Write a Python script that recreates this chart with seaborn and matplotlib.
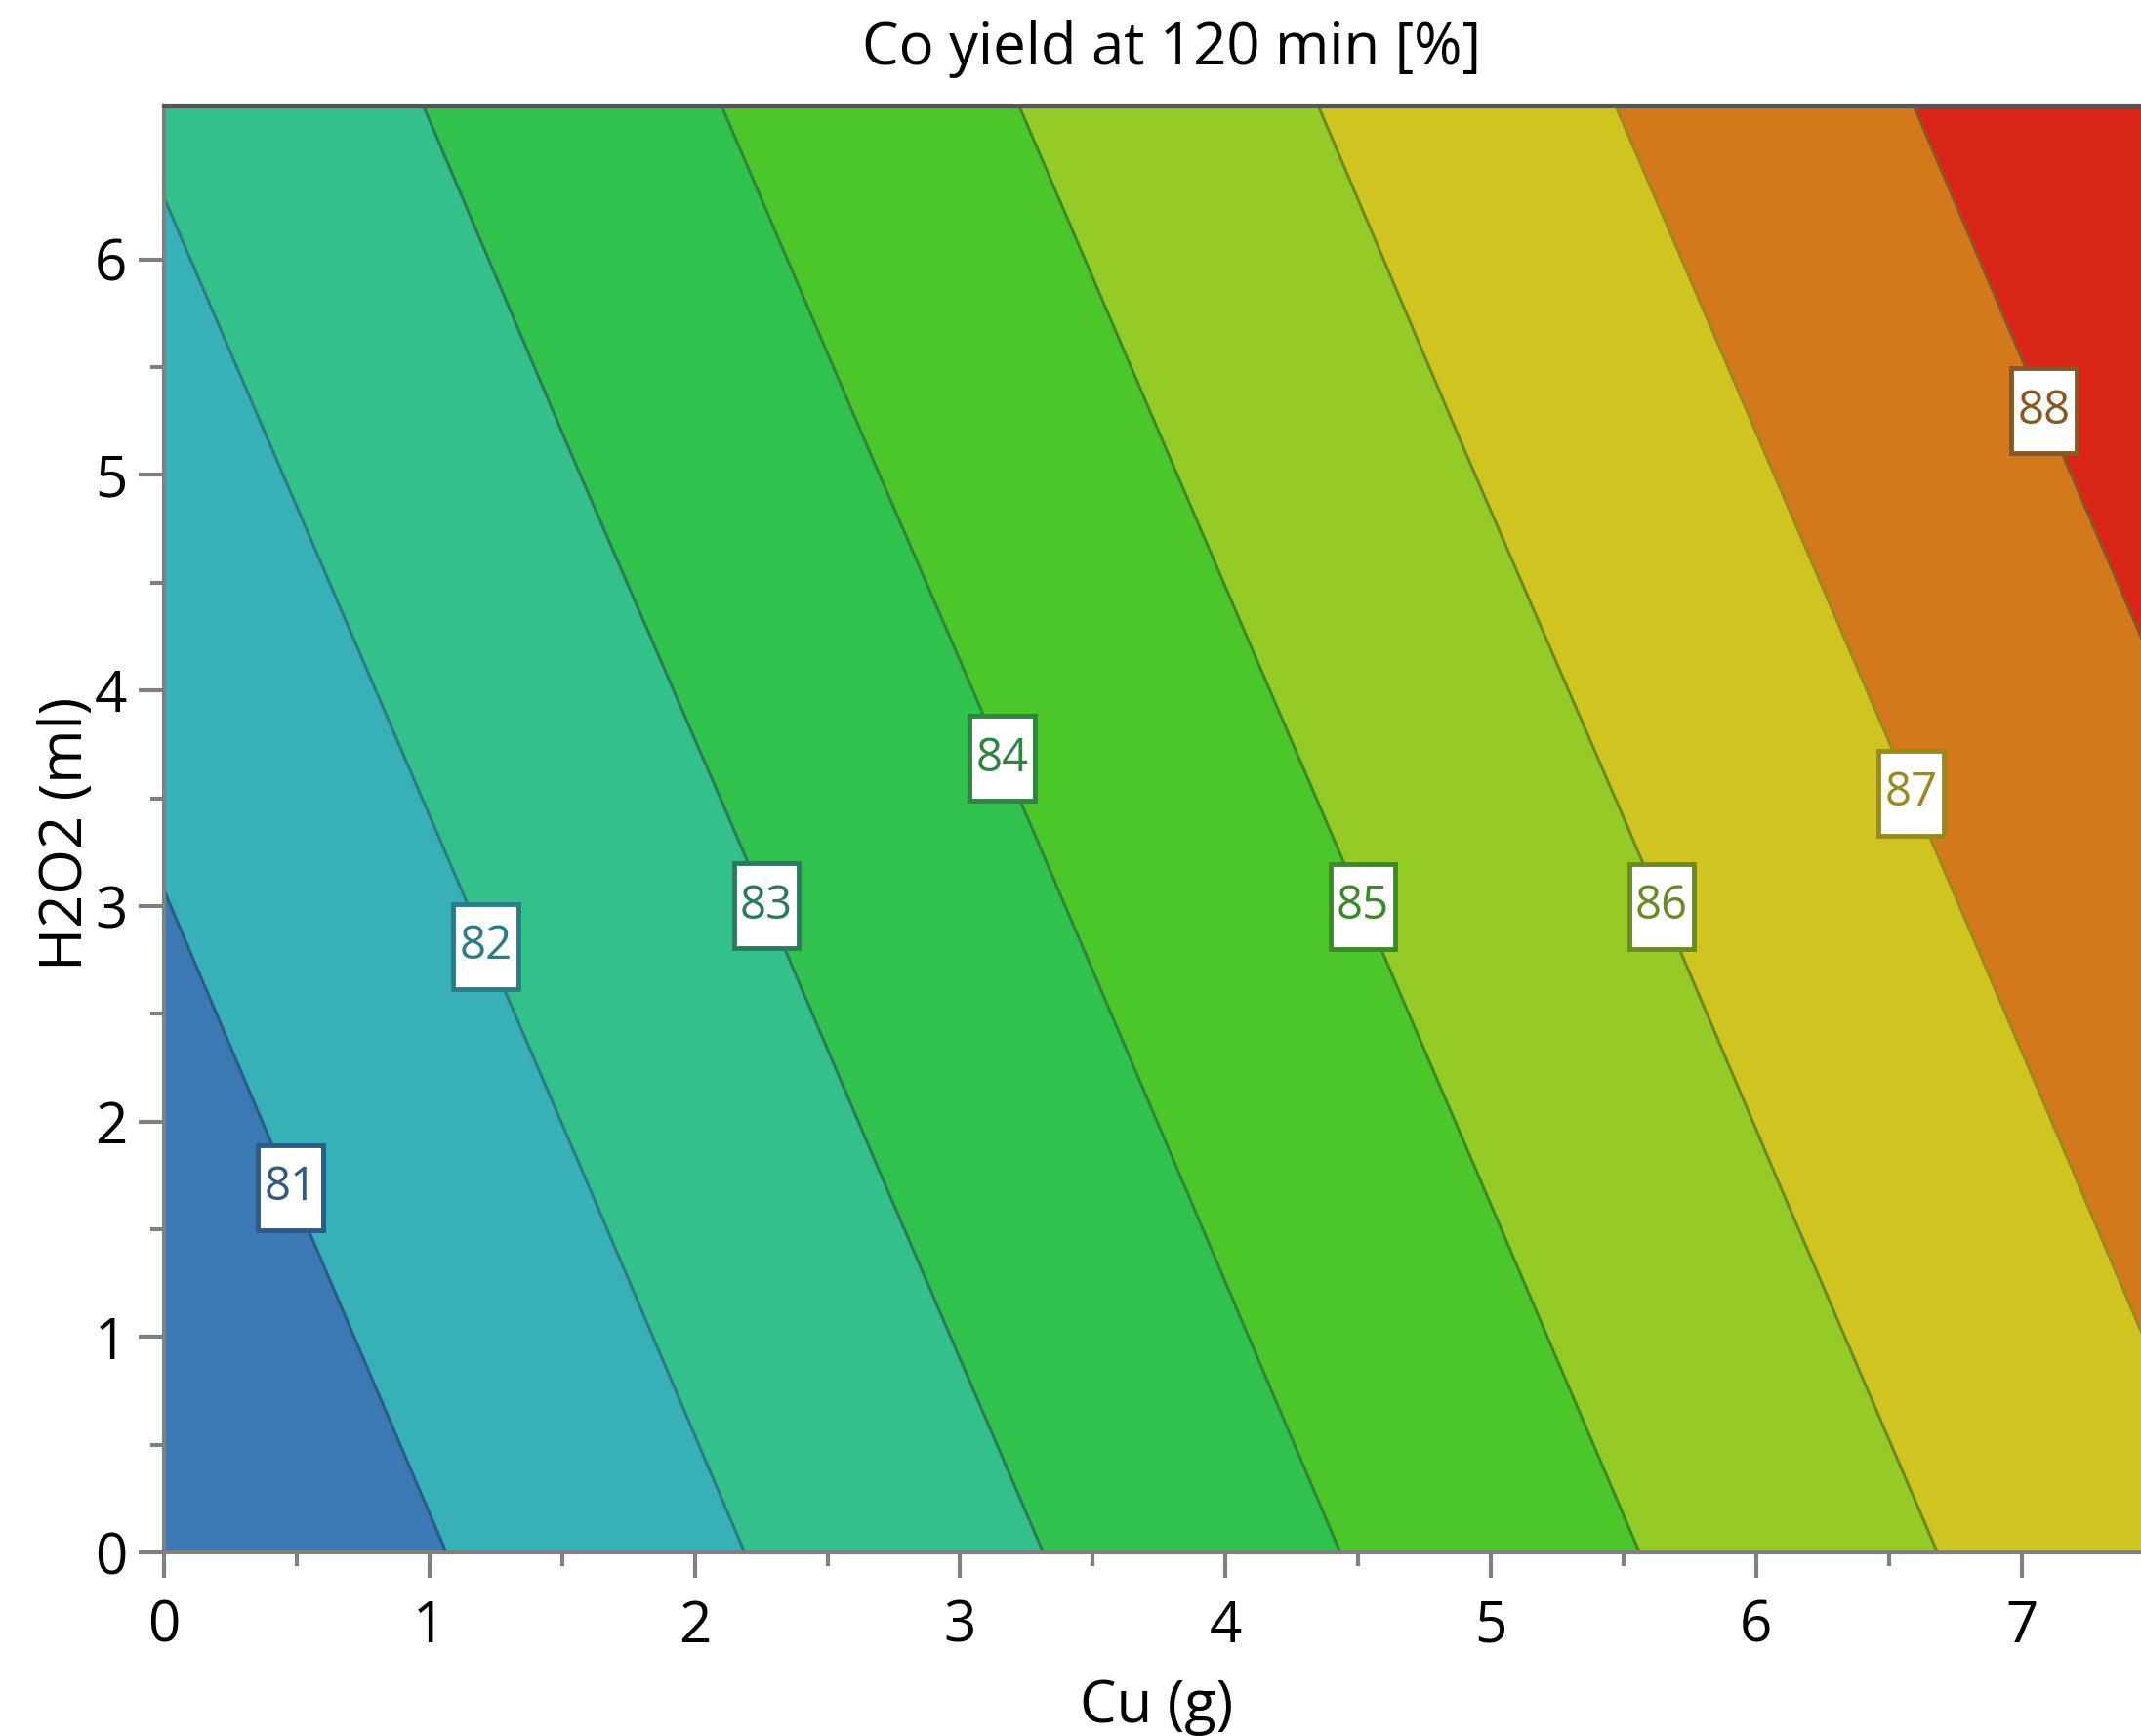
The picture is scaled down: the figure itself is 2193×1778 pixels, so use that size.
import numpy as np
import matplotlib
matplotlib.use("Agg")
import matplotlib.pyplot as plt
from matplotlib.path import Path
import seaborn as sns

# values (plane of Co yield over Cu / H2O2)
cu_g = [0.0, 1.5, 3.0, 4.5, 6.0, 7.5]
h2o2_ml = [0.0, 1.7, 3.4, 5.1, 6.8]
co_yield = [
    [80.05, 81.39, 82.72, 84.06, 85.39, 86.73],
    [80.58, 81.91, 83.25, 84.58, 85.92, 87.25],
    [81.10, 82.44, 83.77, 85.11, 86.44, 87.78],
    [81.63, 82.97, 84.30, 85.64, 86.97, 88.31],
    [82.16, 83.49, 84.83, 86.16, 87.50, 88.83],
]

levels = [80, 81, 82, 83, 84, 85, 86, 87, 88, 89]
fill_colors = ['#3b78b4', '#37b0b8', '#33c08a', '#31c24e', '#4cc72a',
               '#94cb27', '#d0c420', '#d4781c', '#d92518']
line_levels = [81, 82, 83, 84, 85, 86, 87, 88]
line_colors = ['#2d5a86', '#2a7c86', '#2c7a5c', '#2f8440', '#3b8a2a',
               '#6a8a22', '#9a8a1c', '#8a5624']
label_pos = [(0.47, 1.69), (1.21, 2.81), (2.27, 3.00), (3.15, 3.68),
             (4.52, 3.00), (5.65, 3.00), (6.58, 3.52), (7.09, 5.30)]


def tall_box(x0, y0, width, height, mutation_size):
    # label boxes are taller than wide in the original
    px = 0.13 * mutation_size
    py = 0.42 * mutation_size
    x0, y0 = x0 - px, y0 - py
    x1, y1 = x0 + width + 2 * px, y0 + height + 2 * py
    return Path([(x0, y0), (x1, y0), (x1, y1), (x0, y1), (x0, y0)], closed=True)


sns.set_style("ticks")
plt.rcParams['font.family'] = ['Open Sans', 'DejaVu Sans']
plt.rcParams['text.color'] = 'black'
plt.rcParams['xtick.labelcolor'] = 'black'
plt.rcParams['ytick.labelcolor'] = 'black'

fig = plt.figure(figsize=(21.93, 17.78), dpi=100)
ax = fig.add_axes([0.0766, 0.1057, 1 - 0.0766, 0.9387 - 0.1057])

X, Y = np.meshgrid(cu_g, h2o2_ml)
Z = np.array(co_yield)

ax.contourf(X, Y, Z, levels=levels, colors=fill_colors)
cs = ax.contour(X, Y, Z, levels=line_levels, colors=line_colors, linewidths=2.2)
labels = ax.clabel(cs, fmt='%d', manual=label_pos, inline=False, fontsize=34)
for t in labels:
    c = t.get_color()
    t.set_rotation(0)
    t.set_bbox(dict(facecolor='white', edgecolor=c, linewidth=3.5, boxstyle=tall_box))
    t.set_zorder(5)

ax.set_xlim(0, 7.45)
ax.set_ylim(0, 6.71)
ax.set_xticks(range(0, 8))
ax.set_yticks(range(0, 7))
ax.set_xticks(np.arange(0.5, 7.5, 1), minor=True)
ax.set_yticks(np.arange(0.5, 6.5, 1), minor=True)
ax.tick_params(which='major', length=19, width=3, color='#808080', labelsize=42, pad=15)
ax.tick_params(which='minor', length=10, width=3, color='#808080')
ax.tick_params(axis='y', which='major', pad=8)

for side in ['left', 'bottom']:
    ax.spines[side].set_color('#808080')
    ax.spines[side].set_linewidth(3)
ax.spines['top'].set_color('#555555')
ax.spines['top'].set_linewidth(3)
ax.spines['right'].set_visible(False)

fig.text(1200 / 2193, 0.972, 'Co yield at 120 min [%]', ha='center', va='center', fontsize=43)
fig.text(1185 / 2193, 0.017, 'Cu (g)', ha='center', va='center', fontsize=43)
fig.text(0.031, 0.52, 'H2O2 (ml)', ha='center', va='center', rotation=90, fontsize=43)

fig.savefig('out.png', dpi=100)
